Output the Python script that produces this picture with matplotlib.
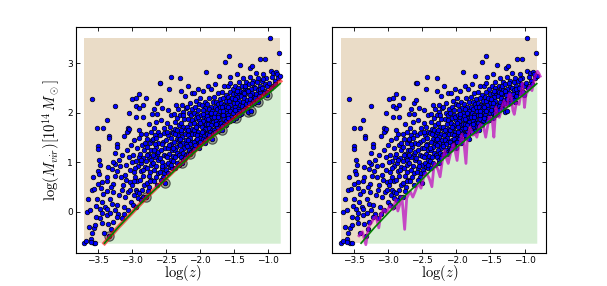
import matplotlib
matplotlib.use('Agg')
import matplotlib.pyplot as plt
import numpy as np

plt.rcParams['mathtext.fontset'] = 'cm'

# (log z, log M) points in strips of log z
pts_a = [(-3.70, -0.62), (-3.56, -0.63), (-3.54, -0.63), (-3.66, 0.00), (-3.61, 0.05),
         (-3.64, 0.27), (-3.59, 0.45), (-3.51, 0.27), (-3.58, 2.29), (-3.51, 1.70),
         (-3.50, 1.33), (-3.50, 1.28), (-3.42, 1.70), (-3.49, 0.83), (-3.48, 0.77),
         (-3.44, 0.60), (-3.50, 0.57), (-3.56, -0.33), (-3.54, -0.27), (-3.59, -0.43),
         (-3.46, -0.13), (-3.44, -0.23), (-3.47, 0.07), (-3.42, 0.37), (-3.44, -0.03),
         (-3.41, -0.42), (-3.63, -0.30), (-3.52, 0.12), (-3.45, 0.48), (-3.57, 0.70),
         (-3.48, 1.05), (-3.53, -0.10), (-3.43, 0.20), (-3.60, -0.55), (-3.46, 0.95),
         (-3.67, -0.58), (-3.60, -0.60), (-3.55, 0.47)]

pts_b = [(-3.37, 1.85), (-3.34, 1.53), (-3.34, 1.49), (-3.25, 2.13), (-3.22, 1.37),
         (-3.22, 1.31), (-3.06, 1.70), (-3.05, 1.63), (-3.04, 2.00), (-3.11, 1.53),
         (-3.07, 1.62), (-3.04, 1.68), (-3.25, 1.20), (-3.37, 0.63), (-3.36, 0.70),
         (-3.37, 0.43), (-3.29, 0.87), (-3.25, 0.97), (-3.21, 0.83), (-3.27, 0.57),
         (-3.32, 0.27), (-3.29, 0.17), (-3.39, 0.10), (-3.37, 0.07), (-3.37, -0.07),
         (-3.32, -0.03), (-3.35, -0.25), (-3.30, -0.35), (-3.33, -0.49), (-3.28, -0.20),
         (-3.25, 0.05), (-3.22, 0.15), (-3.20, -0.05), (-3.17, 0.93), (-3.15, 0.45),
         (-3.13, 0.55), (-3.10, 0.30), (-3.08, 0.65), (-3.05, 0.40), (-3.03, 0.85),
         (-3.01, 0.20), (-3.18, 0.35), (-3.12, 0.10), (-3.15, -0.12), (-3.06, 0.05),
         (-3.02, 0.60), (-3.24, 0.72), (-3.19, 1.05), (-3.14, 1.15), (-3.09, 0.95),
         (-3.04, 1.10), (-3.01, 1.35), (-3.27, 0.40), (-3.10, 0.75), (-3.07, 1.25),
         (-3.16, 0.70), (-3.22, -0.10), (-3.30, 0.50), (-3.35, 0.90), (-3.02, 0.45),
         (-3.11, -0.05), (-3.28, 1.00)]

pts_c = [(-2.99, 2.28), (-2.93, 2.30), (-2.93, 2.13), (-2.93, 1.91), (-2.96, 1.45),
         (-2.92, 1.30), (-2.98, 1.15), (-2.94, 1.02), (-2.91, 0.92), (-2.97, 0.80),
         (-2.95, 0.70), (-2.92, 0.62), (-2.99, 0.55), (-2.94, 0.45), (-2.96, 0.35),
         (-2.91, 0.28), (-2.98, 0.15), (-2.93, 0.10), (-2.95, 0.88), (-2.90, 1.10),
         (-2.97, 0.62), (-2.92, 0.40), (-2.99, 1.00),
         (-2.89, 2.38), (-2.84, 2.15), (-2.89, 2.10), (-2.84, 1.92), (-2.89, 1.65),
         (-2.86, 1.57), (-2.89, 1.50), (-2.85, 1.35), (-2.82, 1.25), (-2.88, 1.18),
         (-2.83, 1.08), (-2.87, 0.98), (-2.81, 0.90), (-2.86, 0.82), (-2.84, 0.72),
         (-2.88, 0.65), (-2.82, 0.55), (-2.85, 0.45), (-2.89, 0.38), (-2.83, 0.30),
         (-2.87, 0.25), (-2.81, 1.40), (-2.86, 1.05), (-2.83, 0.85),
         (-2.79, 2.31), (-2.79, 1.57), (-2.75, 1.78), (-2.72, 1.62), (-2.77, 1.48),
         (-2.73, 1.40), (-2.78, 1.32), (-2.71, 1.25), (-2.76, 1.18), (-2.74, 1.10),
         (-2.79, 1.02), (-2.72, 0.95), (-2.77, 0.88), (-2.73, 0.80), (-2.75, 0.72),
         (-2.71, 0.65), (-2.78, 0.58), (-2.74, 0.50), (-2.79, 0.31), (-2.76, 0.42),
         (-2.72, 1.05), (-2.70, 1.45), (-2.77, 1.15), (-2.73, 0.62),
         (-2.67, 2.08), (-2.70, 1.98), (-2.63, 1.97), (-2.63, 2.20), (-2.64, 1.82),
         (-2.68, 1.70), (-2.62, 1.62), (-2.66, 1.55), (-2.69, 1.48), (-2.61, 1.40),
         (-2.65, 1.32), (-2.68, 1.25), (-2.63, 1.18), (-2.66, 1.10), (-2.61, 1.05),
         (-2.69, 0.98), (-2.64, 0.92), (-2.67, 0.85), (-2.62, 0.78), (-2.65, 0.70),
         (-2.68, 0.62), (-2.63, 0.55), (-2.66, 1.38), (-2.61, 1.22), (-2.69, 1.15),
         (-2.64, 1.50)]

pts_d = [(-2.59, 2.60), (-2.58, 2.61), (-2.59, 2.26), (-2.55, 2.10), (-2.57, 1.85),
         (-2.52, 1.70), (-2.58, 1.55), (-2.54, 1.42), (-2.51, 1.30), (-2.57, 1.25),
         (-2.53, 1.15), (-2.59, 1.08), (-2.55, 1.00), (-2.51, 0.95), (-2.56, 0.88),
         (-2.58, 0.80), (-2.52, 0.78), (-2.54, 0.70), (-2.57, 0.65), (-2.51, 0.58),
         (-2.53, 1.60), (-2.56, 1.38), (-2.50, 1.12), (-2.55, 0.92),
         (-2.43, 2.72), (-2.45, 2.49), (-2.47, 2.05), (-2.42, 1.95), (-2.48, 1.80),
         (-2.44, 1.72), (-2.41, 1.62), (-2.46, 1.55), (-2.49, 1.45), (-2.43, 1.38),
         (-2.47, 1.30), (-2.41, 1.25), (-2.45, 1.18), (-2.48, 1.10), (-2.42, 1.05),
         (-2.46, 0.98), (-2.44, 0.90), (-2.49, 0.85), (-2.41, 0.88), (-2.47, 0.78),
         (-2.43, 1.50), (-2.40, 1.12), (-2.48, 1.62), (-2.45, 1.35), (-2.42, 0.95),
         (-2.29, 2.70), (-2.35, 2.15), (-2.32, 2.08), (-2.38, 1.98), (-2.33, 1.90),
         (-2.37, 1.82), (-2.31, 1.75), (-2.36, 1.68), (-2.39, 1.60), (-2.32, 1.55),
         (-2.34, 1.48), (-2.38, 1.42), (-2.31, 1.38), (-2.35, 1.32), (-2.37, 1.25),
         (-2.33, 1.20), (-2.30, 1.15), (-2.36, 1.10), (-2.39, 1.02), (-2.34, 0.98),
         (-2.31, 0.95), (-2.37, 0.88), (-2.33, 1.65), (-2.39, 1.30), (-2.30, 1.45),
         (-2.36, 1.58),
         (-2.28, 2.45), (-2.22, 2.35), (-2.26, 2.15), (-2.21, 2.10), (-2.25, 2.02),
         (-2.29, 1.95), (-2.23, 1.88), (-2.27, 1.80), (-2.24, 1.72), (-2.20, 1.68),
         (-2.28, 1.62), (-2.22, 1.58), (-2.26, 1.52), (-2.21, 1.45), (-2.25, 1.40),
         (-2.29, 1.35), (-2.23, 1.30), (-2.27, 1.25), (-2.24, 1.20), (-2.21, 1.15),
         (-2.28, 1.10), (-2.25, 1.05), (-2.26, 0.99), (-2.22, 1.08), (-2.29, 1.48),
         (-2.20, 1.38), (-2.24, 1.95), (-2.27, 1.66),
         (-2.18, 2.55), (-2.12, 2.40), (-2.15, 2.20), (-2.19, 2.12), (-2.11, 2.08),
         (-2.16, 2.00), (-2.13, 1.95), (-2.17, 1.88), (-2.10, 1.82), (-2.14, 1.78),
         (-2.19, 1.72), (-2.12, 1.68), (-2.16, 1.62), (-2.11, 1.58), (-2.18, 1.55),
         (-2.14, 1.50), (-2.17, 1.45), (-2.12, 1.42), (-2.15, 1.38), (-2.19, 1.33),
         (-2.11, 1.30), (-2.16, 1.26), (-2.13, 1.22), (-2.18, 1.18), (-2.14, 1.18),
         (-2.10, 1.25), (-2.17, 1.65), (-2.12, 1.85),
         (-2.02, 2.48), (-2.08, 2.40), (-2.05, 2.25), (-2.01, 2.18), (-2.07, 2.12),
         (-2.03, 2.05), (-2.09, 2.00), (-2.04, 1.95), (-2.06, 1.90), (-2.01, 1.85),
         (-2.08, 1.80), (-2.03, 1.75), (-2.05, 1.70), (-2.09, 1.66), (-2.02, 1.62),
         (-2.07, 1.58), (-2.04, 1.55), (-2.00, 1.50), (-2.06, 1.46), (-2.09, 1.42),
         (-2.03, 1.38), (-2.05, 1.33), (-2.01, 1.30), (-2.08, 1.28), (-2.04, 1.48),
         (-2.06, 1.72), (-2.02, 1.92), (-2.07, 1.36), (-2.00, 1.42)]

pts_e = [(-1.91, 2.82), (-1.95, 2.45), (-1.99, 2.30), (-1.93, 2.22), (-1.97, 2.15),
         (-1.92, 2.10), (-1.96, 2.05), (-1.90, 2.00), (-1.98, 1.95), (-1.94, 1.92),
         (-1.91, 1.88), (-1.96, 1.84), (-1.99, 1.80), (-1.93, 1.76), (-1.97, 1.72),
         (-1.92, 1.68), (-1.95, 1.64), (-1.90, 1.60), (-1.98, 1.57), (-1.94, 1.53),
         (-1.96, 1.48), (-1.92, 1.45), (-1.99, 1.42), (-1.93, 1.40), (-1.97, 1.62),
         (-1.91, 1.78), (-1.95, 1.98),
         (-1.88, 2.55), (-1.83, 2.48), (-1.86, 2.30), (-1.81, 2.22), (-1.89, 2.18),
         (-1.84, 2.12), (-1.87, 2.08), (-1.82, 2.03), (-1.85, 1.98), (-1.89, 1.94),
         (-1.83, 1.90), (-1.86, 1.86), (-1.81, 1.82), (-1.88, 1.78), (-1.84, 1.75),
         (-1.87, 1.70), (-1.82, 1.66), (-1.85, 1.62), (-1.89, 1.58), (-1.83, 1.55),
         (-1.86, 1.52), (-1.80, 1.60), (-1.82, 1.47), (-1.88, 1.88), (-1.84, 2.00),
         (-1.87, 1.55),
         (-1.72, 2.75), (-1.77, 2.58), (-1.74, 2.40), (-1.79, 2.32), (-1.71, 2.28),
         (-1.76, 2.22), (-1.73, 2.18), (-1.78, 2.12), (-1.75, 2.08), (-1.70, 2.04),
         (-1.77, 2.00), (-1.74, 1.96), (-1.79, 1.92), (-1.72, 1.88), (-1.76, 1.84),
         (-1.73, 1.80), (-1.78, 1.76), (-1.71, 1.73), (-1.75, 1.70), (-1.79, 1.66),
         (-1.73, 1.64), (-1.77, 1.62), (-1.74, 1.92), (-1.71, 2.12), (-1.76, 1.78),
         (-1.63, 3.03), (-1.65, 2.55), (-1.68, 2.42), (-1.62, 2.36), (-1.66, 2.30),
         (-1.61, 2.25), (-1.69, 2.20), (-1.64, 2.16), (-1.67, 2.12), (-1.62, 2.08),
         (-1.66, 2.04), (-1.60, 2.00), (-1.68, 1.96), (-1.63, 1.92), (-1.65, 1.88),
         (-1.61, 1.84), (-1.69, 1.80), (-1.64, 1.78), (-1.67, 1.74), (-1.62, 1.76),
         (-1.67, 1.66), (-1.66, 1.95), (-1.61, 2.14),
         (-1.57, 3.14), (-1.55, 2.72), (-1.59, 2.55), (-1.52, 2.48), (-1.56, 2.42),
         (-1.51, 2.38), (-1.58, 2.33), (-1.54, 2.28), (-1.57, 2.24), (-1.50, 2.20),
         (-1.55, 2.16), (-1.59, 2.12), (-1.53, 2.08), (-1.56, 2.04), (-1.51, 2.00),
         (-1.58, 1.96), (-1.54, 1.92), (-1.57, 1.88), (-1.52, 1.86), (-1.55, 1.84),
         (-1.59, 1.90), (-1.53, 2.30), (-1.56, 2.60)]

pts_f = [(-1.41, 2.97), (-1.46, 2.78), (-1.43, 2.62), (-1.48, 2.55), (-1.44, 2.50),
         (-1.41, 2.45), (-1.47, 2.40), (-1.42, 2.36), (-1.45, 2.32), (-1.49, 2.28),
         (-1.43, 2.24), (-1.46, 2.20), (-1.41, 2.16), (-1.48, 2.12), (-1.44, 2.08),
         (-1.42, 2.04), (-1.46, 2.00), (-1.40, 1.98), (-1.47, 1.89), (-1.43, 1.95),
         (-1.45, 2.45), (-1.49, 2.05),
         (-1.36, 2.70), (-1.32, 2.62), (-1.38, 2.55), (-1.34, 2.50), (-1.31, 2.46),
         (-1.37, 2.42), (-1.33, 2.38), (-1.39, 2.34), (-1.35, 2.30), (-1.30, 2.26),
         (-1.36, 2.22), (-1.32, 2.18), (-1.38, 2.14), (-1.34, 2.10), (-1.31, 2.08),
         (-1.37, 2.05), (-1.33, 2.55), (-1.35, 2.40),
         (-1.27, 2.91), (-1.24, 2.95), (-1.26, 2.72), (-1.22, 2.65), (-1.28, 2.58),
         (-1.21, 2.52), (-1.25, 2.48), (-1.29, 2.44), (-1.23, 2.40), (-1.27, 2.36),
         (-1.20, 2.32), (-1.26, 2.28), (-1.22, 2.24), (-1.28, 2.20), (-1.24, 2.17),
         (-1.29, 2.01), (-1.25, 2.03), (-1.21, 2.20), (-1.23, 2.60),
         (-1.11, 3.09), (-1.18, 2.80), (-1.14, 2.70), (-1.16, 2.62), (-1.12, 2.55),
         (-1.19, 2.50), (-1.15, 2.46), (-1.11, 2.42), (-1.17, 2.38), (-1.13, 2.34),
         (-1.19, 2.30), (-1.14, 2.21), (-1.16, 2.26), (-1.12, 2.48),
         (-1.04, 3.08), (-1.07, 2.78), (-1.03, 2.70), (-1.09, 2.64), (-1.05, 2.58),
         (-1.01, 2.55), (-1.08, 2.50), (-1.04, 2.45), (-1.06, 2.40), (-1.02, 2.42),
         (-1.01, 2.36), (-1.07, 2.68),
         (-0.97, 3.51), (-0.83, 3.21), (-0.96, 2.85), (-0.92, 2.80), (-0.88, 2.82),
         (-0.86, 2.78), (-0.94, 2.72), (-0.90, 2.65), (-0.98, 2.60), (-0.85, 2.70),
         (-0.93, 2.55), (-0.82, 2.75), (-0.95, 2.50), (-0.89, 2.58)]

# points sitting on the lower envelope (ringed in the left panel)
env_z = [-3.33, -2.79, -2.51, -2.26, -2.14, -1.82, -1.67, -1.47, -1.29, -1.25, -1.14, -1.01]
env_m = [-0.49, 0.31, 0.58, 0.99, 1.18, 1.47, 1.66, 1.89, 2.01, 2.03, 2.21, 2.36]

# envelope fits
fit_z = [-3.40, -3.2, -3.0, -2.8, -2.6, -2.4, -2.2, -2.0, -1.8, -1.6, -1.4, -1.2, -1.0, -0.82]
fit_m = [-0.63, -0.31, -0.02, 0.27, 0.53, 0.80, 1.06, 1.30, 1.53, 1.74, 1.96, 2.17, 2.38, 2.59]
fit2_m = [-0.63, -0.31, -0.02, 0.27, 0.54, 0.81, 1.07, 1.32, 1.55, 1.77, 1.99, 2.21, 2.42, 2.64]

# running minimum (right panel)
run_z = [-3.43, -3.38, -3.33, -3.29, -3.25, -3.21, -3.18, -3.14, -3.11, -3.07, -3.03, -2.98,
         -2.93, -2.89, -2.86, -2.80, -2.76, -2.73, -2.68, -2.64, -2.61, -2.56, -2.52, -2.48,
         -2.44, -2.40, -2.36, -2.33, -2.31, -2.27, -2.24, -2.20, -2.17, -2.14, -2.12, -2.08,
         -2.04, -1.99, -1.97, -1.94, -1.92, -1.89, -1.86, -1.84, -1.80, -1.76, -1.72, -1.70,
         -1.67, -1.65, -1.60, -1.57, -1.52, -1.50, -1.47, -1.45, -1.42, -1.39, -1.37, -1.32,
         -1.30, -1.27, -1.25, -1.23, -1.20, -1.17, -1.15, -1.12, -1.08, -1.05, -1.03, -1.00,
         -0.98, -0.95, -0.92, -0.89, -0.85, -0.81, -0.79, -0.77]
run_m = [-0.48, -0.40, -0.66, -0.30, -0.22, -0.12, -0.09, -0.32, -0.05, 0.05, -0.02, 0.12,
         0.05, 0.25, 0.02, 0.30, -0.35, 0.28, 0.42, 0.30, 0.40, 0.58, 0.48, 0.70,
         0.78, 0.68, 0.51, 0.92, 0.98, 0.85, 0.71, 1.10, 1.24, 1.05, 0.98, 1.22,
         1.37, 1.04, 1.30, 1.42, 1.57, 1.40, 0.98, 1.45, 1.71, 1.55, 1.57, 1.51,
         1.70, 1.77, 1.71, 1.51, 1.91, 1.91, 1.80, 1.51, 2.11, 1.95, 1.91, 2.17,
         2.24, 2.10, 2.14, 2.37, 2.37, 2.05, 1.97, 2.20, 2.17, 2.40, 2.60, 2.11,
         2.37, 2.44, 2.54, 2.45, 2.72, 2.84, 2.80, 2.74]

all_pts = pts_a + pts_b + pts_c + pts_d + pts_e + pts_f
log_z = np.array([p[0] for p in all_pts])
log_m = np.array([p[1] for p in all_pts])
fit_m = np.array(fit_m)

tan = '#eadcc7'
green = '#d5eed2'

fig, axes = plt.subplots(1, 2, figsize=(6.07, 2.86), dpi=100, sharey=True)
fig.subplots_adjust(left=0.125, right=0.9, bottom=0.115, top=0.905, wspace=0.2)

for i, ax in enumerate(axes):
    # allowed region and excluded region
    ax.fill_between([log_z.min(), log_z.max()], log_m.min(), log_m.max(),
                    color=tan, lw=0, zorder=0)
    ax.fill_between(fit_z, log_m.min(), fit_m, where=fit_m >= log_m.min(),
                    color=green, lw=0, zorder=0)

    if i == 0:
        ax.scatter(env_z, env_m, s=45, facecolor='0.45', edgecolor='k',
                   linewidths=0.8, alpha=0.6, zorder=1)
    ax.scatter(log_z, log_m, s=11, c='b', edgecolors='k', linewidths=0.5, zorder=2)

    if i == 0:
        ax.plot(fit_z, fit2_m, color='r', lw=3, alpha=0.6, zorder=3)
    else:
        ax.plot(run_z, run_m, color='m', lw=2, alpha=0.7, zorder=3)
    ax.plot(fit_z, fit_m, color='g', lw=1.2, zorder=4)

    ax.set_xlim(-3.82, -0.68)
    ax.set_ylim(-0.83, 3.73)
    ax.set_xticks([-3.5, -3.0, -2.5, -2.0, -1.5, -1.0])
    ax.set_yticks([0, 1, 2, 3])
    ax.tick_params(direction='in', top=True, right=True, labelsize=6.5,
                   length=3, width=0.6, pad=2)
    for sp in ax.spines.values():
        sp.set_linewidth(0.8)
    ax.set_xlabel(r'$\log(z)$', fontsize=10.5, labelpad=-1)

axes[0].set_ylabel(r'$\log(M_{vir})[10^{14}\,M_\odot]$', fontsize=10.5, labelpad=4)

fig.savefig('out.png', dpi=100, facecolor='white')
